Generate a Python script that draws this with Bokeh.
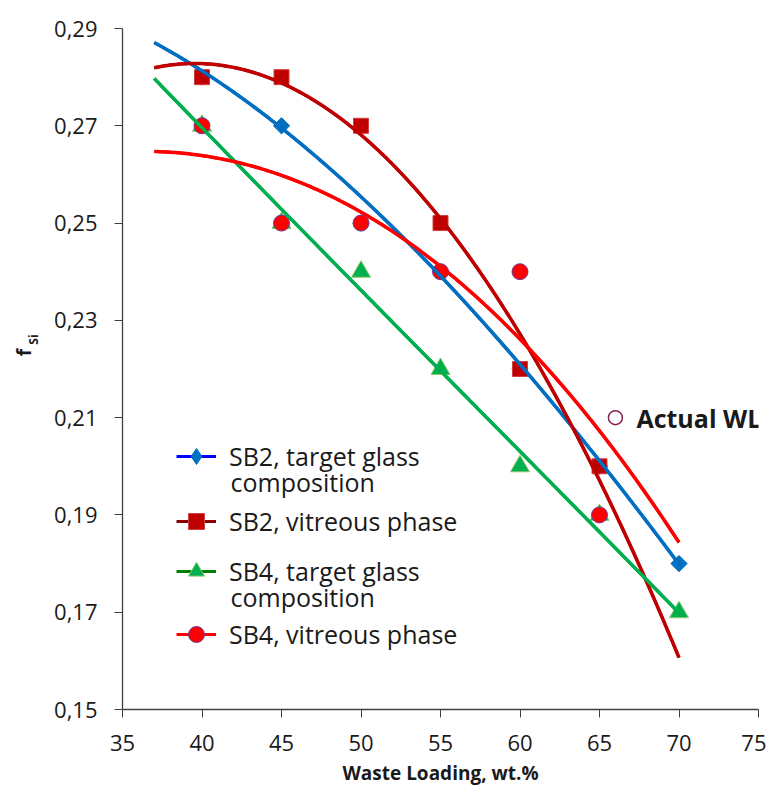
import numpy as np
from bokeh.plotting import figure
from bokeh.models import (Range1d, FixedTicker, CustomJSTickFormatter,
                          Legend, LegendItem, Label)
from bokeh.core.properties import value
from bokeh.embed import file_html
from bokeh.resources import INLINE

# ---------------- data ----------------
x_ticks = [35, 40, 45, 50, 55, 60, 65, 70, 75]
y_ticks = [0.15, 0.17, 0.19, 0.21, 0.23, 0.25, 0.27, 0.29]

sb2_target_x = [40, 45, 50, 55, 60, 65, 70]
sb2_target_y = [0.28, 0.27, 0.25, 0.24, 0.22, 0.20, 0.18]

sb2_vitr_x = [40, 45, 50, 55, 60, 65]
sb2_vitr_y = [0.28, 0.28, 0.27, 0.25, 0.22, 0.20]

sb4_target_x = [40, 45, 50, 55, 60, 65, 70]
sb4_target_y = [0.27, 0.25, 0.24, 0.22, 0.20, 0.19, 0.17]

sb4_vitr_x = [40, 45, 50, 55, 60, 65]
sb4_vitr_y = [0.27, 0.25, 0.25, 0.24, 0.24, 0.19]

actual_wl_x = [66]
actual_wl_y = [0.21]
actual_wl_text = ["Actual WL"]

# trend lines
trend_x = [37, 40, 45, 50, 55, 60, 65, 70]
trend_sb2_target = [0.2874, 0.2807, 0.2700, 0.2550, 0.2395, 0.2210, 0.2008, 0.1800]
trend_sb2_vitr = [0.2819, 0.2826, 0.2790, 0.2690, 0.2500, 0.2260, 0.1990, 0.1600]
trend_sb4_target = [0.2795, 0.2700, 0.2525, 0.2365, 0.2195, 0.2027, 0.1870, 0.1697]
trend_sb4_vitr = [0.2647, 0.2640, 0.2595, 0.2525, 0.2409, 0.2266, 0.2068, 0.1845]

label_first = ["SB2, target glass", "SB2, vitreous phase", "SB4, target glass", "SB4, vitreous phase"]
label_second = ["composition", "", "composition", ""]

BLUE, DRED, GREEN, RED = "#0070C0", "#C00000", "#00B050", "#FF0000"
LEG_COLORS = ["#0000FF", "#8B0000", "#008000", "#FF0000"]
FONT = "Open Sans"
TXT = "#1a1a1a"

p = figure(width=766, height=788, output_backend="svg", toolbar_location=None,
           x_range=Range1d(35, 75), y_range=Range1d(0.15, 0.29),
           min_border_left=122, min_border_right=8, min_border_top=28, min_border_bottom=75)
p.outline_line_color = None
p.grid.visible = False

for ax in (p.xaxis, p.yaxis):
    ax.axis_line_color = "#404040"
    ax.axis_line_width = 1.3
    ax.major_tick_line_color = "#404040"
    ax.major_tick_in = 0
    ax.major_tick_out = 8
    ax.minor_tick_line_color = None
    ax.major_label_text_font = FONT
    ax.major_label_text_font_size = "22px"
    ax.major_label_text_color = TXT

p.xaxis.ticker = FixedTicker(ticks=x_ticks)
p.yaxis.ticker = FixedTicker(ticks=y_ticks)
p.yaxis.formatter = CustomJSTickFormatter(code="return tick.toFixed(2).replace('.', ',');")
p.xaxis.major_label_standoff = 17
p.yaxis.major_label_standoff = 17
p.xaxis.axis_label = "Waste Loading, wt.%"
p.xaxis.axis_label_text_font = FONT
p.xaxis.axis_label_text_font_style = "bold"
p.xaxis.axis_label_text_font_size = "19px"
p.xaxis.axis_label_text_color = TXT
p.xaxis.axis_label_standoff = 6

# markers (a narrow diamond copy sits under the rotated squares and serves the legend)
r_dleg = p.scatter(sb2_target_x, sb2_target_y, marker="diamond", size=15,
                   fill_color=BLUE, line_color=BLUE)
r_d = p.scatter(sb2_target_x, sb2_target_y, marker="square", angle=np.pi / 4, size=11.5,
                fill_color=BLUE, line_color=BLUE)
r_s = p.scatter(sb2_vitr_x, sb2_vitr_y, marker="square", size=15,
                fill_color=DRED, line_color="#D04040")
r_t = p.scatter(sb4_target_x, sb4_target_y, marker="triangle", size=19,
                fill_color=GREEN, line_color="#8CC868")
r_c = p.scatter(sb4_vitr_x, sb4_vitr_y, marker="circle", size=16,
                fill_color=RED, line_color="#6A3D9A", line_width=1)
markers = [r_dleg, r_s, r_t, r_c]

# trend lines
xs = np.linspace(min(trend_x), max(trend_x), 200)
def trend(vals):
    c = np.polyfit(trend_x, vals, 3)
    return np.polyval(c, xs)

trends = [trend_sb2_target, trend_sb2_vitr, trend_sb4_target, trend_sb4_vitr]
colors = [BLUE, DRED, GREEN, RED]
leg_lines = []
for vals, lc in zip(trends, LEG_COLORS):
    # legend-colour copy, covered by the visible trend line
    leg_lines.append(p.line(xs, trend(vals), line_color=lc, line_width=3))
for vals, c in zip(trends, colors):
    p.line(xs, trend(vals), line_color=c, line_width=3.5)

# actual WL
p.scatter(actual_wl_x, actual_wl_y, marker="circle", size=14, fill_color="white",
          line_color="#8B2252", line_width=1.5)
p.text(actual_wl_x, actual_wl_y, text=actual_wl_text, x_offset=21, text_baseline="middle",
       text_font=value(FONT), text_font_style="bold", text_font_size="25px", text_color=TXT)

# legend: one small legend per entry, placed in screen space
leg_y = [233, 168, 118, 55]
for i in range(4):
    lg = Legend(items=[LegendItem(label=label_first[i], renderers=[leg_lines[i], markers[i]])],
                location=(54, leg_y[i]))
    lg.border_line_alpha = 0
    lg.background_fill_alpha = 0
    lg.padding = 0
    lg.margin = 0
    lg.glyph_width = 40
    lg.glyph_height = 40
    lg.label_standoff = 13
    lg.label_text_font = FONT
    lg.label_text_font_size = "25px"
    lg.label_text_color = TXT
    p.add_layout(lg, "center")
    if label_second[i]:
        p.add_layout(Label(x=108, y=leg_y[i] + 20 - 25, x_units="screen", y_units="screen",
                           text=label_second[i], text_baseline="middle", text_font=FONT,
                           text_font_size="25px", text_color=TXT))

# y axis label f_Si (side-panel labels are not clipped to the frame)
p.add_layout(Label(x=23.5, y=357, x_units="canvas", y_units="screen", text="f", angle=np.pi / 2,
                   text_align="center", text_baseline="middle", text_font=FONT,
                   text_font_style="bold", text_font_size="19px", text_color=TXT), "left")
p.add_layout(Label(x=32.5, y=370, x_units="canvas", y_units="screen", text="Si", angle=np.pi / 2,
                   text_align="center", text_baseline="middle", text_font=FONT,
                   text_font_style="bold", text_font_size="12px", text_color=TXT), "left")

open("out.html", "w").write(file_html(p, INLINE))
